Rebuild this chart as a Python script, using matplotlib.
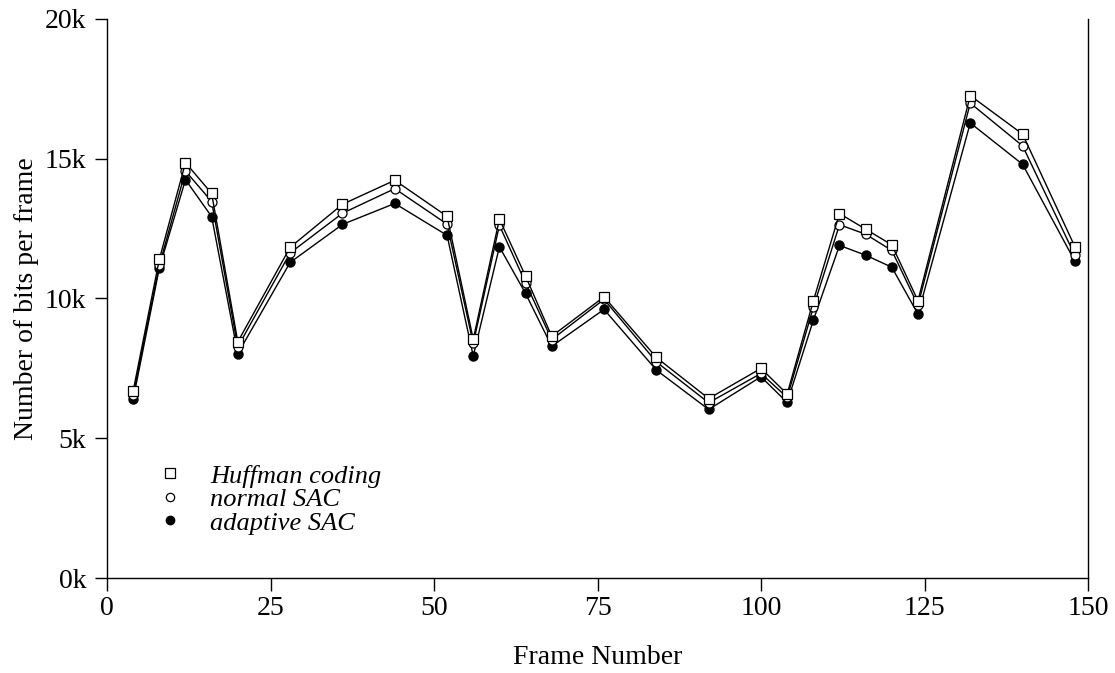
import matplotlib
matplotlib.use("Agg")
import matplotlib.pyplot as plt
from matplotlib.lines import Line2D
from matplotlib.ticker import FuncFormatter

frames = [4, 8, 12, 16, 20, 28, 36, 44, 52, 56, 60, 64, 68, 76, 84, 92,
          100, 104, 108, 112, 116, 120, 124, 132, 140, 148]

huffman = [6690, 11400, 14860, 13760, 8450, 11830, 13370, 14230, 12940, 8540,
           12840, 10800, 8650, 10060, 7890, 6420, 7500, 6580, 9910, 13040,
           12480, 11920, 9920, 17260, 15880, 11850]
normal_sac = [6550, 11190, 14560, 13470, 8270, 11630, 13050, 13930, 12660, 8390,
              12620, 10560, 8530, 9970, 7730, 6270, 7320, 6460, 9680, 12640,
              12300, 11720, 9760, 16990, 15460, 11540]
adaptive_sac = [6390, 11090, 14250, 12930, 8030, 11290, 12650, 13400, 12260, 7940,
                11850, 10180, 8290, 9610, 7440, 6030, 7200, 6280, 9220, 11900,
                11550, 11120, 9440, 16280, 14800, 11330]

labels = ["Huffman coding", "normal SAC", "adaptive SAC"]

plt.rcParams['font.family'] = ['Liberation Serif', 'DejaVu Serif']

fig = plt.figure(figsize=(11.15, 6.73), dpi=100)
ax = fig.add_axes([107 / 1115, 95 / 673, (1088 - 107) / 1115, (578 - 19) / 673])

# filled first so the open markers sit on top
ax.plot(frames, adaptive_sac, color='black', lw=1.0, marker='o', ms=6.5,
        mfc='black', mec='black')
ax.plot(frames, normal_sac, color='black', lw=1.0, marker='o', ms=6.5,
        mfc='white', mec='black', mew=0.9)
ax.plot(frames, huffman, color='black', lw=1.0, marker='s', ms=7,
        mfc='white', mec='black', mew=0.9)

ax.set_xlim(0, 150)
ax.set_ylim(0, 20000)
ax.set_xticks(range(0, 151, 25))
ax.set_yticks(range(0, 20001, 5000))
ax.yaxis.set_major_formatter(FuncFormatter(lambda v, p: f"{int(v / 1000)}k"))
ax.tick_params(direction='out', length=9, width=1, labelsize=20)
ax.tick_params(axis='x', pad=4)
ax.tick_params(axis='y', pad=6)
ax.spines['top'].set_visible(False)
for s in ['left', 'bottom', 'right']:
    ax.spines[s].set_linewidth(1.0)

ax.set_xlabel("Frame Number", fontsize=20, labelpad=17)
ax.set_ylabel("Number of bits per frame", fontsize=20, labelpad=4)

handles = [
    Line2D([], [], ls='none', marker='s', ms=6.5, mfc='white', mec='black', mew=0.9),
    Line2D([], [], ls='none', marker='o', ms=6, mfc='white', mec='black', mew=0.9),
    Line2D([], [], ls='none', marker='o', ms=6, mfc='black', mec='black'),
]
ax.legend(handles, labels, loc='upper left', bbox_to_anchor=(0.027, 0.246),
          frameon=False, prop={'style': 'italic', 'size': 19},
          handlelength=1.0, handletextpad=1.0, labelspacing=0.0)

fig.savefig("out.png", dpi=100)
